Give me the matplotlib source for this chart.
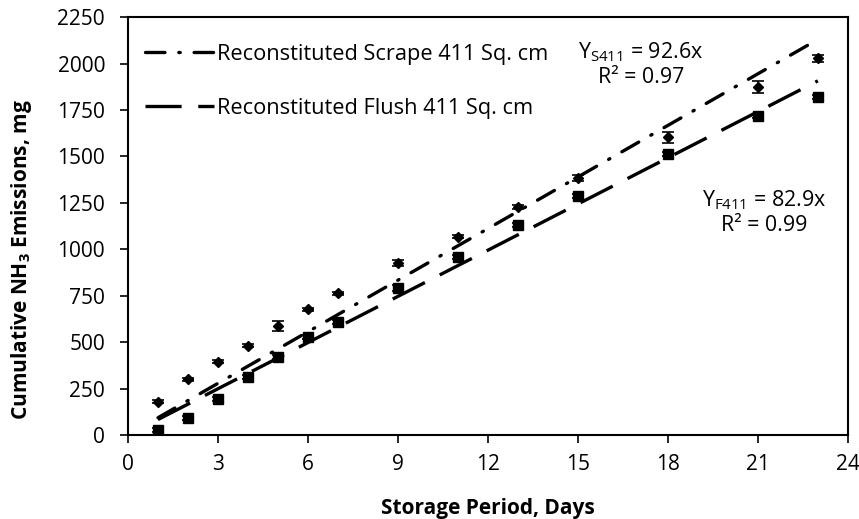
import matplotlib
matplotlib.use("Agg")
import matplotlib.pyplot as plt
import numpy as np

plt.rcParams['font.family'] = ['Open Sans', 'DejaVu Sans']
plt.rcParams['mathtext.fontset'] = 'custom'
plt.rcParams['mathtext.rm'] = 'Open Sans'
plt.rcParams['mathtext.bf'] = 'Open Sans:bold'
plt.rcParams['lines.scale_dashes'] = False

# Storage days
days = [1, 2, 3, 4, 5, 6, 7, 9, 11, 13, 15, 18, 21, 23]

# Reconstituted scrape (diamonds)
scrape = [178, 301, 393, 479, 587, 678, 764, 926, 1066, 1227, 1383, 1604, 1873, 2029]
scrape_err = [8, 8, 8, 8, 25, 8, 8, 15, 8, 12, 15, 30, 32, 18]

# Reconstituted flush (squares)
flush = [27, 91, 194, 312, 420, 527, 608, 791, 958, 1130, 1286, 1512, 1717, 1819]
flush_err = [10, 10, 12, 10, 10, 10, 10, 15, 10, 10, 10, 10, 12, 12]

# Linear fits through origin
slope_scrape = 92.6
slope_flush = 82.9
fit_x = np.array([1, 23])

fig, ax = plt.subplots(figsize=(8.59, 5.19), dpi=100)
fig.subplots_adjust(left=0.149, right=0.987, bottom=0.162, top=0.967)

ax.errorbar(days, scrape, yerr=scrape_err, fmt='D', color='black', ms=5.5,
            capsize=4, elinewidth=1.2, capthick=1.2)
ax.errorbar(days, flush, yerr=flush_err, fmt='s', color='black', ms=7,
            capsize=4, elinewidth=1.2, capthick=1.2)

ax.plot(fit_x, slope_scrape * fit_x, color='black', lw=2.4,
        linestyle=(0, (14, 10, 1, 10)), dash_capstyle='round',
        label='Reconstituted Scrape 411 Sq. cm')
ax.plot(fit_x, slope_flush * fit_x, color='black', lw=2.4,
        linestyle=(0, (26, 12)),
        label='Reconstituted Flush 411 Sq. cm')

ax.text(17.1, 1995, 'Y$_{\\mathregular{S411}}$ = 92.6x\nR² = 0.97',
        ha='center', va='center', fontsize=15.4, linespacing=1.2)
ax.text(21.2, 1200, 'Y$_{\\mathregular{F411}}$ = 82.9x\nR² = 0.99',
        ha='center', va='center', fontsize=15.4, linespacing=1.15)

ax.set_xlim(0, 24)
ax.set_ylim(0, 2250)
ax.set_xticks(range(0, 25, 3))
ax.set_yticks(range(0, 2251, 250))
ax.tick_params(labelsize=15, length=5.5, width=1.2, direction='out')
ax.tick_params(axis='y', pad=11)
ax.tick_params(axis='x', pad=8)
for s in ax.spines.values():
    s.set_linewidth(1.5)

ax.set_xlabel('Storage Period, Days', fontsize=15, fontweight='bold', labelpad=17)
ax.set_ylabel('Cumulative NH$_{\\mathbf{3}}$ Emissions, mg', fontsize=15,
              fontweight='bold')
ax.yaxis.set_label_coords(-0.131, 0.42)

ax.legend(loc='upper left', frameon=False, fontsize=15.7, handlelength=3.15,
          handletextpad=0.15, labelspacing=1.5, borderpad=0, borderaxespad=0,
          bbox_to_anchor=(0.024, 0.936))

fig.savefig('out.png', dpi=100)
